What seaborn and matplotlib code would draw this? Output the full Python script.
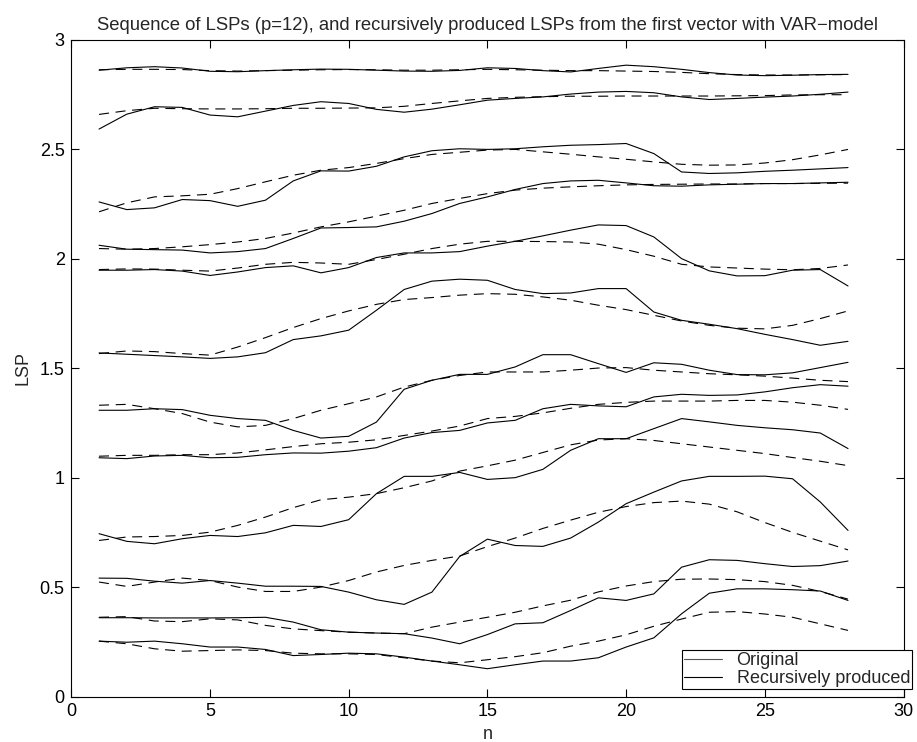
import numpy as np
import pandas as pd
import seaborn as sns
import matplotlib
matplotlib.use("Agg")
import matplotlib.pyplot as plt
from matplotlib.lines import Line2D
from matplotlib.legend_handler import HandlerLine2D
from matplotlib.ticker import FuncFormatter

n = list(range(1, 29))

orig_1 = [0.253, 0.248, 0.253, 0.241, 0.226, 0.226, 0.215, 0.187, 0.192, 0.198, 0.195, 0.180, 0.162, 0.145,
          0.127, 0.145, 0.162, 0.162, 0.177, 0.226, 0.268, 0.378, 0.472, 0.492, 0.492, 0.488, 0.482, 0.439]
rec_1 = [0.253, 0.241, 0.218, 0.207, 0.210, 0.213, 0.210, 0.198, 0.195, 0.195, 0.192, 0.177, 0.162, 0.154,
         0.168, 0.182, 0.200, 0.230, 0.253, 0.282, 0.321, 0.354, 0.385, 0.388, 0.377, 0.362, 0.332, 0.302]
orig_2 = [0.360, 0.360, 0.359, 0.359, 0.359, 0.360, 0.362, 0.340, 0.305, 0.294, 0.290, 0.287, 0.267, 0.241,
          0.283, 0.332, 0.337, 0.393, 0.451, 0.439, 0.469, 0.591, 0.625, 0.622, 0.607, 0.594, 0.598, 0.619]
rec_2 = [0.362, 0.365, 0.345, 0.342, 0.355, 0.350, 0.325, 0.309, 0.301, 0.294, 0.290, 0.287, 0.317, 0.340,
         0.362, 0.385, 0.414, 0.440, 0.478, 0.505, 0.525, 0.536, 0.537, 0.534, 0.525, 0.508, 0.480, 0.445]
orig_3 = [0.541, 0.540, 0.527, 0.518, 0.530, 0.518, 0.504, 0.504, 0.503, 0.477, 0.442, 0.421, 0.477, 0.640,
          0.719, 0.690, 0.686, 0.724, 0.797, 0.881, 0.934, 0.985, 1.006, 1.006, 1.007, 0.995, 0.889, 0.759]
rec_3 = [0.523, 0.503, 0.523, 0.541, 0.530, 0.500, 0.480, 0.480, 0.500, 0.530, 0.569, 0.599, 0.622, 0.642,
         0.685, 0.724, 0.768, 0.806, 0.842, 0.868, 0.886, 0.893, 0.879, 0.844, 0.795, 0.750, 0.710, 0.670]
orig_4 = [0.744, 0.709, 0.698, 0.721, 0.736, 0.731, 0.748, 0.782, 0.777, 0.808, 0.927, 1.006, 1.006, 1.024,
          0.992, 1.000, 1.038, 1.125, 1.178, 1.178, 1.224, 1.270, 1.255, 1.239, 1.228, 1.219, 1.204, 1.133]
rec_4 = [0.713, 0.729, 0.731, 0.736, 0.751, 0.782, 0.820, 0.863, 0.899, 0.911, 0.927, 0.954, 0.985, 1.030,
         1.054, 1.080, 1.115, 1.150, 1.172, 1.178, 1.170, 1.155, 1.140, 1.125, 1.110, 1.092, 1.075, 1.055]
orig_5 = [1.091, 1.087, 1.099, 1.102, 1.091, 1.093, 1.105, 1.113, 1.112, 1.121, 1.137, 1.181, 1.206, 1.216,
          1.250, 1.262, 1.315, 1.335, 1.328, 1.324, 1.369, 1.381, 1.376, 1.378, 1.392, 1.411, 1.425, 1.418]
rec_5 = [1.098, 1.102, 1.102, 1.105, 1.105, 1.113, 1.127, 1.142, 1.155, 1.162, 1.173, 1.193, 1.213, 1.236,
         1.270, 1.280, 1.296, 1.317, 1.335, 1.344, 1.350, 1.350, 1.350, 1.353, 1.353, 1.345, 1.331, 1.312]
orig_6 = [1.308, 1.308, 1.315, 1.311, 1.285, 1.270, 1.262, 1.216, 1.181, 1.189, 1.254, 1.404, 1.445, 1.472,
          1.472, 1.506, 1.562, 1.562, 1.521, 1.481, 1.525, 1.518, 1.491, 1.471, 1.470, 1.479, 1.503, 1.527]
rec_6 = [1.331, 1.335, 1.315, 1.293, 1.254, 1.232, 1.239, 1.270, 1.308, 1.338, 1.369, 1.414, 1.445, 1.467,
         1.483, 1.483, 1.483, 1.491, 1.501, 1.503, 1.491, 1.483, 1.475, 1.470, 1.464, 1.455, 1.445, 1.439]
orig_7 = [1.570, 1.564, 1.558, 1.552, 1.545, 1.552, 1.571, 1.631, 1.648, 1.674, 1.765, 1.860, 1.898, 1.907,
          1.902, 1.860, 1.841, 1.844, 1.864, 1.864, 1.757, 1.719, 1.701, 1.681, 1.655, 1.631, 1.605, 1.623]
rec_7 = [1.567, 1.579, 1.576, 1.567, 1.560, 1.597, 1.640, 1.686, 1.727, 1.762, 1.792, 1.814, 1.823, 1.834,
         1.841, 1.838, 1.826, 1.811, 1.788, 1.768, 1.742, 1.716, 1.696, 1.683, 1.680, 1.696, 1.727, 1.762]
orig_8 = [1.948, 1.948, 1.951, 1.944, 1.924, 1.940, 1.960, 1.968, 1.936, 1.960, 2.006, 2.027, 2.027, 2.033,
          2.058, 2.080, 2.105, 2.131, 2.155, 2.152, 2.100, 2.001, 1.945, 1.922, 1.923, 1.948, 1.951, 1.876]
rec_8 = [1.951, 1.954, 1.953, 1.948, 1.944, 1.958, 1.975, 1.984, 1.981, 1.975, 1.997, 2.021, 2.047, 2.067,
         2.080, 2.080, 2.079, 2.077, 2.067, 2.042, 2.012, 1.975, 1.963, 1.958, 1.953, 1.950, 1.956, 1.972]
orig_9 = [2.062, 2.044, 2.042, 2.040, 2.027, 2.033, 2.047, 2.093, 2.141, 2.143, 2.146, 2.172, 2.207, 2.253,
          2.283, 2.317, 2.344, 2.356, 2.359, 2.347, 2.334, 2.332, 2.338, 2.341, 2.344, 2.344, 2.347, 2.350]
rec_9 = [2.047, 2.044, 2.047, 2.055, 2.065, 2.077, 2.093, 2.118, 2.146, 2.169, 2.195, 2.222, 2.253, 2.276,
         2.298, 2.314, 2.323, 2.329, 2.334, 2.338, 2.340, 2.341, 2.342, 2.342, 2.344, 2.344, 2.345, 2.346]
orig_10 = [2.260, 2.225, 2.233, 2.271, 2.266, 2.240, 2.268, 2.356, 2.402, 2.401, 2.423, 2.466, 2.494, 2.503,
           2.500, 2.503, 2.512, 2.519, 2.522, 2.527, 2.481, 2.397, 2.390, 2.393, 2.400, 2.405, 2.411, 2.417]
rec_10 = [2.215, 2.256, 2.283, 2.288, 2.295, 2.321, 2.352, 2.382, 2.405, 2.417, 2.436, 2.458, 2.477, 2.487,
          2.497, 2.500, 2.489, 2.478, 2.466, 2.455, 2.443, 2.432, 2.428, 2.429, 2.438, 2.453, 2.475, 2.500]
orig_11 = [2.593, 2.661, 2.695, 2.692, 2.657, 2.649, 2.675, 2.701, 2.718, 2.710, 2.683, 2.670, 2.684, 2.704,
           2.725, 2.733, 2.740, 2.753, 2.762, 2.765, 2.759, 2.740, 2.728, 2.733, 2.739, 2.744, 2.752, 2.762]
rec_11 = [2.660, 2.677, 2.688, 2.686, 2.685, 2.685, 2.686, 2.688, 2.688, 2.689, 2.690, 2.697, 2.710, 2.722,
          2.733, 2.738, 2.741, 2.743, 2.743, 2.744, 2.744, 2.744, 2.744, 2.745, 2.746, 2.749, 2.750, 2.750]
orig_12 = [2.862, 2.873, 2.878, 2.872, 2.857, 2.855, 2.860, 2.864, 2.867, 2.866, 2.862, 2.858, 2.857, 2.861,
           2.873, 2.870, 2.860, 2.854, 2.870, 2.885, 2.878, 2.866, 2.851, 2.840, 2.837, 2.839, 2.842, 2.843]
rec_12 = [2.864, 2.866, 2.866, 2.865, 2.860, 2.858, 2.860, 2.862, 2.864, 2.865, 2.864, 2.862, 2.862, 2.864,
          2.866, 2.864, 2.862, 2.860, 2.860, 2.858, 2.856, 2.852, 2.846, 2.842, 2.840, 2.840, 2.841, 2.842]

originals = [orig_1, orig_2, orig_3, orig_4, orig_5, orig_6, orig_7, orig_8, orig_9, orig_10, orig_11, orig_12]
recursives = [rec_1, rec_2, rec_3, rec_4, rec_5, rec_6, rec_7, rec_8, rec_9, rec_10, rec_11, rec_12]

title = "Sequence of LSPs (p=12), and recursively produced LSPs from the first vector with VAR\u2212model"
legend_labels = ["Original", "Recursively produced"]

rows = []
for i, (o, r) in enumerate(zip(originals, recursives)):
    for k, v in zip(n, o):
        rows.append({"n": k, "LSP": v, "unit": f"o{i}", "kind": "Original"})
    for k, v in zip(n, r):
        rows.append({"n": k, "LSP": v, "unit": f"r{i}", "kind": "Recursively produced"})
df = pd.DataFrame(rows)

sns.set_style("ticks")
plt.rcParams["font.family"] = ["Liberation Sans", "DejaVu Sans"]
plt.rcParams["xtick.direction"] = "in"
plt.rcParams["ytick.direction"] = "in"

FS = 13

fig = plt.figure(figsize=(9.17, 7.42), dpi=100)
ax = fig.add_axes([71.3 / 917, (742 - 696.5) / 742, (903.5 - 71.3) / 917, (696.5 - 40) / 742])

sns.lineplot(data=df, x="n", y="LSP", units="unit", style="kind", estimator=None,
             color="black", linewidth=0.8, sort=False,
             dashes={"Original": "", "Recursively produced": (9, 6)},
             legend=False, ax=ax)

ax.set_xlim(0, 30)
ax.set_ylim(0, 3)
ax.set_xticks(np.arange(0, 31, 5))
ax.set_yticks(np.arange(0, 3.01, 0.5))
ax.yaxis.set_major_formatter(FuncFormatter(lambda v, p: f"{v:g}"))
ax.xaxis.set_major_formatter(FuncFormatter(lambda v, p: f"{v:g}"))
ax.tick_params(axis="both", which="both", direction="in", length=6, width=0.8,
               top=True, right=True, labelsize=FS, colors="black", pad=4.8)
for s in ax.spines.values():
    s.set_visible(True)
    s.set_linewidth(0.8)
    s.set_color("black")

ax.set_xlabel("n", fontsize=FS, labelpad=4)
ax.set_ylabel("LSP", fontsize=FS, labelpad=6)
ax.set_title(title, fontsize=13.3, pad=7)


class OffsetLineHandler(HandlerLine2D):
    """Legend line drawn in the right part of the handle box, leaving a gap on the left."""
    def create_artists(self, legend, orig_handle, xdescent, ydescent, width, height, fontsize, trans):
        artists = super().create_artists(legend, orig_handle, xdescent, ydescent, width, height, fontsize, trans)
        off = 0.27 * width
        for a in artists:
            if isinstance(a, Line2D):
                xd = a.get_xdata()
                if len(xd) == 2:
                    a.set_xdata([xd[0] + off, xd[1]])
        return artists


handles = [Line2D([], [], color="#555555", lw=0.8), Line2D([], [], color="black", lw=0.8)]
leg = ax.legend(handles, legend_labels, loc="lower right", bbox_to_anchor=(1.0105, 0.0107),
                frameon=True, fancybox=False, edgecolor="black", framealpha=1,
                fontsize=FS, handlelength=2.1, handletextpad=0.8, borderpad=0.12,
                labelspacing=0.08, borderaxespad=0.0,
                handler_map={Line2D: OffsetLineHandler()})
leg.get_frame().set_linewidth(0.8)

fig.savefig("out.png", dpi=100)
